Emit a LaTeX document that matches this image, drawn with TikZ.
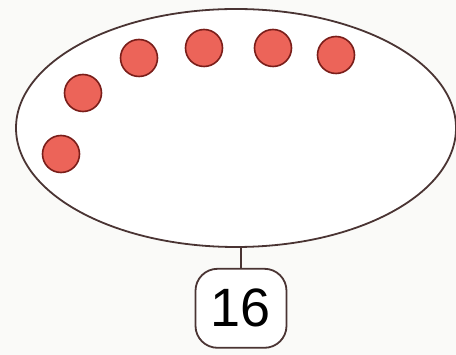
\documentclass[tikz,border=0pt]{standalone}
\usepackage{fontspec}
\setmainfont{Liberation Sans}
\usepackage{tikz}
\usetikzlibrary{positioning,shapes.geometric}
\definecolor{rim}{HTML}{4A3433}
\definecolor{beadfill}{HTML}{EC6459}
\definecolor{beadrim}{HTML}{7A1E1A}
\definecolor{paper}{HTML}{FAFAF8}
\tikzset{
  bag/.style={draw=rim, ellipse, line width=1.8pt, fill=white, minimum width=440pt, minimum height=238pt, inner sep=0pt},
  bead/.style={draw=beadrim, circle, line width=1.6pt, fill=beadfill, minimum size=37pt, inner sep=0pt},
  numbox/.style={draw=rim, rounded corners=22pt, line width=1.8pt, fill=white, minimum width=91pt, minimum height=79pt, align=center, font=\fontsize{54}{60}\selectfont},
  stem/.style={draw=rim, line width=1.8pt}
}

\begin{document}
\begin{tikzpicture}[x=1pt,y=-1pt]
  \fill[paper] (0,0) rectangle (456,355);
  \useasboundingbox (0,0) rectangle (456,355);

  \node[bag] (bag) at (236,128) {};
  \node[numbox, below=20pt of bag, xshift=5pt] (count) {16};
  \draw[stem] (count.north) -- (count.north |- bag.south);

  \node[bead] (b1) at (61,154) {};
  \node[bead] (b2) at (83,93) {};
  \node[bead] (b3) at (139,58) {};
  \node[bead] (b4) at (204,48) {};
  \node[bead] (b5) at (273,48) {};
  \node[bead] (b6) at (336,55) {};
\end{tikzpicture}
\end{document}
